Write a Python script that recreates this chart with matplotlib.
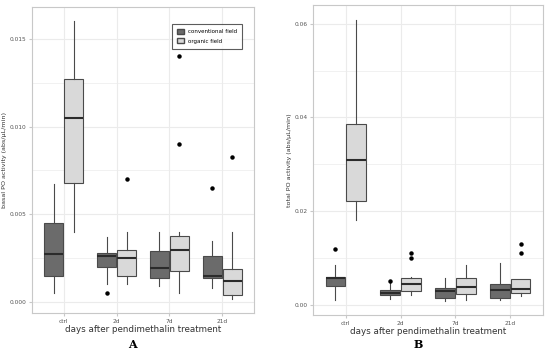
import matplotlib
matplotlib.use("Agg")
import matplotlib.pyplot as plt
from matplotlib.patches import Patch
from matplotlib.ticker import MultipleLocator, FormatStrFormatter

days = ["ctrl", "2d", "7d", "21d"]

# basal PO activity: (whislo, q1, med, q3, whishi) per day
basal_conv = [(0.0005, 0.00148, 0.00275, 0.0045, 0.00673),
              (0.00103, 0.0020, 0.00262, 0.00281, 0.00372),
              (0.0009, 0.00139, 0.00194, 0.00289, 0.0040),
              (0.00078, 0.00135, 0.00148, 0.0026, 0.00348)]
basal_conv_out = [[], [0.0005], [], [0.00648]]
basal_org = [(0.0040, 0.00677, 0.0105, 0.01273, 0.0160),
             (0.00101, 0.0015, 0.00249, 0.00298, 0.0040),
             (0.00051, 0.00175, 0.00298, 0.00374, 0.0040),
             (0.00017, 0.0004, 0.00121, 0.00188, 0.0040)]
basal_org_out = [[], [0.0070], [0.0140, 0.0090], [0.00828]]

# total PO activity
total_conv = [(0.00107, 0.0040, 0.00563, 0.0060, 0.0084),
              (0.00128, 0.0020, 0.00256, 0.00314, 0.0047),
              (0.00085, 0.0015, 0.00286, 0.00356, 0.0057),
              (0.0010, 0.0015, 0.00306, 0.00448, 0.0089)]
total_conv_out = [[0.01195], [0.0050], [], []]
total_org = [(0.0180, 0.0221, 0.0308, 0.0386, 0.0609),
             (0.0020, 0.0030, 0.00448, 0.00563, 0.0059),
             (0.00107, 0.00235, 0.00377, 0.00563, 0.0084),
             (0.0019, 0.00243, 0.00328, 0.0054, 0.0055)]
total_org_out = [[], [0.0111, 0.0099], [], [0.0130, 0.0110]]

dark = "#6b6b6b"
light = "#d9d9d9"
edge = "#4a4a4a"
grid = "#ebebeb"


def stats(vals, outs):
    res = []
    for (lo, q1, med, q3, hi), fl in zip(vals, outs):
        res.append(dict(whislo=lo, q1=q1, med=med, q3=q3, whishi=hi, fliers=fl))
    return res


def draw(ax, conv, conv_out, org, org_out, ylim, step, ylabel, fmt):
    for s, o, off, col in [(conv, conv_out, -0.19, dark), (org, org_out, 0.19, light)]:
        pos = [i + 1 + off for i in range(len(days))]
        ax.bxp(stats(s, o), positions=pos, widths=0.36, patch_artist=True,
               showcaps=False,
               boxprops=dict(facecolor=col, edgecolor=edge, linewidth=0.8),
               whiskerprops=dict(color=edge, linewidth=0.8),
               medianprops=dict(color="#2b2b2b", linewidth=1.5),
               flierprops=dict(marker="o", markerfacecolor="black",
                               markeredgecolor="black", markersize=2.2))
    ax.set_xlim(0.4, 4.6)
    ax.set_ylim(*ylim)
    ax.set_xticks(range(1, len(days) + 1))
    ax.set_xticklabels(days)
    ax.yaxis.set_major_locator(MultipleLocator(step))
    ax.yaxis.set_minor_locator(MultipleLocator(step / 2))
    ax.yaxis.set_major_formatter(FormatStrFormatter(fmt))
    ax.grid(True, which="major", color=grid, linewidth=0.8)
    ax.grid(True, which="minor", axis="y", color=grid, linewidth=0.5)
    ax.set_axisbelow(True)
    for sp in ax.spines.values():
        sp.set_color("#c8c8c8")
        sp.set_linewidth(0.8)
    ax.tick_params(which="both", length=2, color="#c8c8c8", labelsize=4.2,
                   labelcolor="#555555", pad=2)
    ax.tick_params(which="minor", length=0)
    ax.set_xlabel("days after pendimethalin treatment", fontsize=6.3,
                  color="#333333", labelpad=1)
    ax.set_ylabel(ylabel, fontsize=4.6, color="#333333", labelpad=2)


fig = plt.figure(figsize=(5.5, 3.56), dpi=100)
axA = fig.add_axes([32 / 550, 43 / 356, 222 / 550, 306 / 356])
axB = fig.add_axes([313 / 550, 41 / 356, 230 / 550, 310 / 356])

draw(axA, basal_conv, basal_conv_out, basal_org, basal_org_out,
     (-0.000627, 0.01682), 0.005, "basal PO activity (abs/µL/min)", "%.3f")
draw(axB, total_conv, total_conv_out, total_org, total_org_out,
     (-0.0022, 0.064), 0.02, "total PO activity (abs/µL/min)", "%.2f")

handles = [Patch(facecolor=dark, edgecolor=edge, label="conventional field"),
           Patch(facecolor=light, edgecolor=edge, label="organic field")]
leg = axA.legend(handles=handles, loc="upper right", bbox_to_anchor=(0.96, 0.955),
                 fontsize=4.0, frameon=True, fancybox=False, handlelength=1.3,
                 handleheight=1.1, borderpad=0.9, labelspacing=0.7,
                 handletextpad=0.8)
leg.get_frame().set_edgecolor("#333333")
leg.get_frame().set_linewidth(0.8)

fig.text(132 / 550, 1 - 345 / 356, "A", fontsize=8, fontweight="bold",
         family="DejaVu Serif", ha="center", va="center")
fig.text(418 / 550, 1 - 345 / 356, "B", fontsize=8, fontweight="bold",
         family="DejaVu Serif", ha="center", va="center")

fig.savefig("out.png", dpi=100)
